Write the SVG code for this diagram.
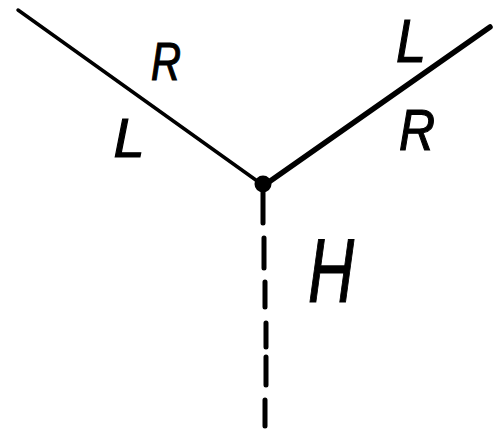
<svg xmlns="http://www.w3.org/2000/svg" width="501" height="438" viewBox="0 0 501 438">
<style>
.lbl{font-family:"Liberation Sans",Arial,sans-serif;font-style:italic;fill:#000;stroke:#000;stroke-width:1.2;text-anchor:middle}
.ln{stroke:#000;fill:none;stroke-linecap:round}
</style>
<rect width="501" height="438" fill="#fff"/>
<g id="connectors">
<line class="ln" x1="18" y1="10" x2="260" y2="183" stroke-width="3.5"/>
<line class="ln" x1="490" y1="27" x2="266" y2="184" stroke-width="5.5"/>
<path class="ln" d="M263 188 V223 M264 238 V268 M265 282 V307 M266 323 V347 M266 357 V385 M265 400 V426" stroke-width="5"/>
</g>
<g id="vertex"><circle cx="263" cy="184" r="8.5" fill="#000"/></g>
<g id="label-R-left"><text class="lbl" x="166" y="80" font-size="53" textLength="30" lengthAdjust="spacingAndGlyphs">R</text></g>
<g id="label-L-left"><text class="lbl" x="129" y="157" font-size="56">L</text></g>
<g id="label-L-right"><text class="lbl" x="411" y="62" font-size="61" textLength="30" lengthAdjust="spacingAndGlyphs">L</text></g>
<g id="label-R-right"><text class="lbl" x="417" y="150" font-size="58" textLength="36" lengthAdjust="spacingAndGlyphs">R</text></g>
<g id="label-H"><text class="lbl" x="331" y="302" font-size="90" textLength="46" lengthAdjust="spacingAndGlyphs">H</text></g>
</svg>
